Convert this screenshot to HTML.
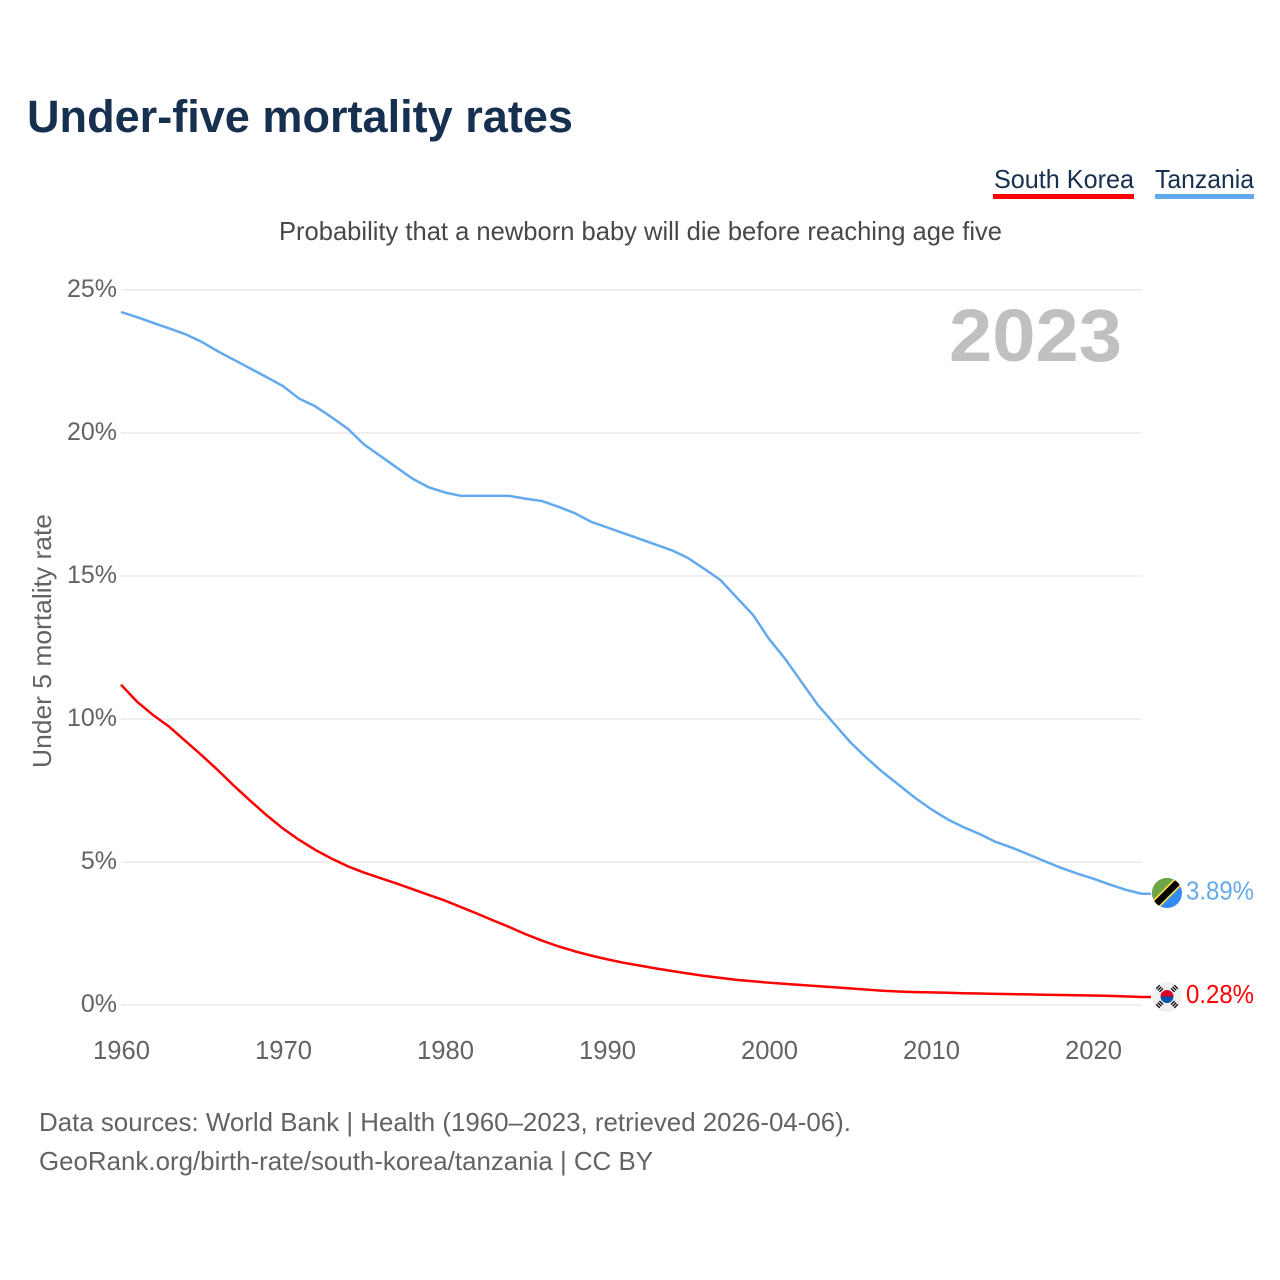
<!DOCTYPE html>
<html>
<head>
<meta charset="utf-8">
<style>
html,body{margin:0;padding:0;background:#fff;}
svg{display:block;}
text{font-family:"Liberation Sans",sans-serif;}
</style>
</head>
<body>
<svg id="chart" width="1280" height="1280" viewBox="0 0 1280 1280" xmlns="http://www.w3.org/2000/svg">
  <defs>
    <clipPath id="clip-tz"><circle id="clip-tz-c" cx="1167" cy="893" r="15"/></clipPath>
    <clipPath id="clip-kr"><circle id="clip-kr-c" cx="1167" cy="997" r="15"/></clipPath>
  </defs>
  <text x="27" y="132" font-size="45" font-weight="700" fill="#17304f" textLength="546" lengthAdjust="spacingAndGlyphs">Under-five mortality rates</text>

  <g>
    <text x="994" y="188" font-size="26" fill="#17304f" textLength="140" lengthAdjust="spacingAndGlyphs">South Korea</text>
    <rect x="993" y="194" width="141" height="5" fill="#ff0000"/>
  </g>
  <g>
    <text x="1155" y="188" font-size="26" fill="#17304f" textLength="99" lengthAdjust="spacingAndGlyphs">Tanzania</text>
    <rect x="1155" y="194" width="99" height="5" fill="#63a9ee"/>
  </g>

  <text x="279" y="240" font-size="26" fill="#484848" textLength="723" lengthAdjust="spacingAndGlyphs">Probability that a newborn baby will die before reaching age five</text>
  <text transform="translate(51,768) rotate(-90)" x="0" y="0" font-size="26" fill="#636363" textLength="254" lengthAdjust="spacingAndGlyphs">Under 5 mortality rate</text>

  <g id="grid"></g>
  <g id="yticks"></g>
  <g id="xticks"></g>

  <text x="949" y="361" font-size="74" font-weight="700" fill="#c0c0c0" textLength="173" lengthAdjust="spacingAndGlyphs">2023</text>

  <path id="line-tz" fill="none" stroke="#63a9ee" stroke-width="2.5" stroke-linejoin="round"/>
  <path id="line-kr" fill="none" stroke="#ff0000" stroke-width="2.5" stroke-linejoin="round"/>

  <g id="flag-tz" clip-path="url(#clip-tz)">
    <rect x="1150" y="876" width="34" height="34" fill="#338af3"/>
    <polygon points="1150,876 1184,876 1150,910" fill="#6da544"/>
    <line x1="1150" y1="910" x2="1184" y2="876" stroke="#ffda44" stroke-width="10"/>
    <line x1="1150" y1="910" x2="1184" y2="876" stroke="#000000" stroke-width="6.5"/>
  </g>
  <g id="flag-kr" clip-path="url(#clip-kr)">
    <rect x="1150" y="980" width="34" height="34" fill="#f0f0f0"/>
    <path d="M1160.5 996.5 a6.5 6.5 0 0 1 13 0 z" fill="#d80027"/>
    <path d="M1160.5 996.5 a6.5 6.5 0 0 0 13 0 z" fill="#0052b4"/>
    <g stroke="#000" stroke-width="5" stroke-dasharray="1.3 1">
      <line x1="1157.5" y1="986.5" x2="1162" y2="991"/>
      <line x1="1176.5" y1="986.5" x2="1172" y2="991"/>
      <line x1="1157.5" y1="1006.5" x2="1162" y2="1002"/>
      <line x1="1176.5" y1="1006.5" x2="1172" y2="1002"/>
    </g>
  </g>

  <text id="value-tz" x="1186" y="900" font-size="26" fill="#63a9ee" textLength="68" lengthAdjust="spacingAndGlyphs"></text>
  <text id="value-kr" x="1186" y="1003" font-size="26" fill="#ff0000" textLength="68" lengthAdjust="spacingAndGlyphs"></text>

  <text x="39" y="1131" font-size="26" fill="#636363" textLength="812" lengthAdjust="spacingAndGlyphs">Data sources: World Bank | Health (1960–2023, retrieved 2026-04-06).</text>
  <text x="39" y="1170" font-size="26" fill="#636363" textLength="614" lengthAdjust="spacingAndGlyphs">GeoRank.org/birth-rate/south-korea/tanzania | CC BY</text>
</svg>
<script>
const startYear = 1960;
const tanzaniaValues = [24.23,24.05,23.85,23.65,23.45,23.18,22.85,22.55,22.25,21.95,21.64,21.2,20.93,20.55,20.15,19.6,19.2,18.8,18.4,18.1,17.92,17.8,17.8,17.8,17.8,17.7,17.62,17.42,17.2,16.9,16.7,16.5,16.3,16.1,15.9,15.63,15.25,14.86,14.25,13.65,12.8,12.1,11.3,10.5,9.85,9.2,8.65,8.15,7.7,7.25,6.85,6.5,6.22,5.98,5.7,5.5,5.27,5.03,4.8,4.6,4.42,4.22,4.03,3.89];
const southKoreaValues = [11.2,10.6,10.13,9.72,9.22,8.72,8.2,7.65,7.13,6.63,6.17,5.77,5.42,5.12,4.85,4.63,4.44,4.25,4.05,3.85,3.65,3.42,3.19,2.95,2.72,2.47,2.25,2.05,1.88,1.73,1.6,1.48,1.38,1.28,1.19,1.1,1.02,0.95,0.88,0.83,0.78,0.74,0.7,0.66,0.62,0.58,0.54,0.5,0.47,0.45,0.44,0.43,0.41,0.4,0.39,0.38,0.37,0.36,0.35,0.34,0.33,0.32,0.3,0.28];
const yTickValues = [0,5,10,15,20,25];
const xTickValues = [1960,1970,1980,1990,2000,2010,2020];

const NS = 'http://www.w3.org/2000/svg';
function xScale(year){ return 121 + (year - 1960) * 16.2; }
function yScale(v){ return 1005 - v * 28.6; }

const grid = document.getElementById('grid');
const yticks = document.getElementById('yticks');
const xticks = document.getElementById('xticks');

yTickValues.forEach(function(v){
  const l = document.createElementNS(NS,'line');
  
  
  l.setAttribute('x1', 121);
  l.setAttribute('x2', 1142);
  l.setAttribute('y1', yScale(v));
  l.setAttribute('y2', yScale(v));
  l.setAttribute('stroke', '#eaeaea');
  l.setAttribute('stroke-width', '1.6');
  grid.appendChild(l);
  const t = document.createElementNS(NS,'text');
  
  
  t.setAttribute('x', 117);
  t.setAttribute('y', yScale(v) + 7);
  t.setAttribute('text-anchor', 'end');
  t.setAttribute('font-size', '25');
  t.setAttribute('fill', '#636363');
  t.textContent = v + '%';
  yticks.appendChild(t);
});

xTickValues.forEach(function(y){
  const t = document.createElementNS(NS,'text');
  
  
  t.setAttribute('x', xScale(y) + 0.5);
  t.setAttribute('y', 1059);
  t.setAttribute('text-anchor', 'middle');
  t.setAttribute('font-size', '26');
  t.setAttribute('textLength', '57');
  t.setAttribute('lengthAdjust', 'spacingAndGlyphs');
  t.setAttribute('fill', '#636363');
  t.textContent = String(y);
  xticks.appendChild(t);
});

function linePath(values){
  let d = '';
  values.forEach(function(v,i){
    d += (i ? 'L' : 'M') + xScale(startYear + i).toFixed(2) + ' ' + yScale(v).toFixed(2);
  });
  const last = values[values.length - 1];
  return d + 'L1151 ' + yScale(last).toFixed(2);
}

document.getElementById('line-tz').setAttribute('d', linePath(tanzaniaValues));
document.getElementById('line-kr').setAttribute('d', linePath(southKoreaValues));

const lastTz = tanzaniaValues[tanzaniaValues.length - 1];
const lastKr = southKoreaValues[southKoreaValues.length - 1];
document.getElementById('value-tz').textContent = lastTz.toFixed(2) + '%';
document.getElementById('value-kr').textContent = lastKr.toFixed(2) + '%';
document.getElementById('value-tz').setAttribute('y', yScale(lastTz) + 6);
document.getElementById('value-kr').setAttribute('y', yScale(lastKr) + 6);
document.getElementById('flag-tz').setAttribute('transform', 'translate(0,' + (yScale(lastTz) - 893.75) + ')');
document.getElementById('flag-kr').setAttribute('transform', 'translate(0,' + (yScale(lastKr) - 997) + ')');
</script>
</body>
</html>
